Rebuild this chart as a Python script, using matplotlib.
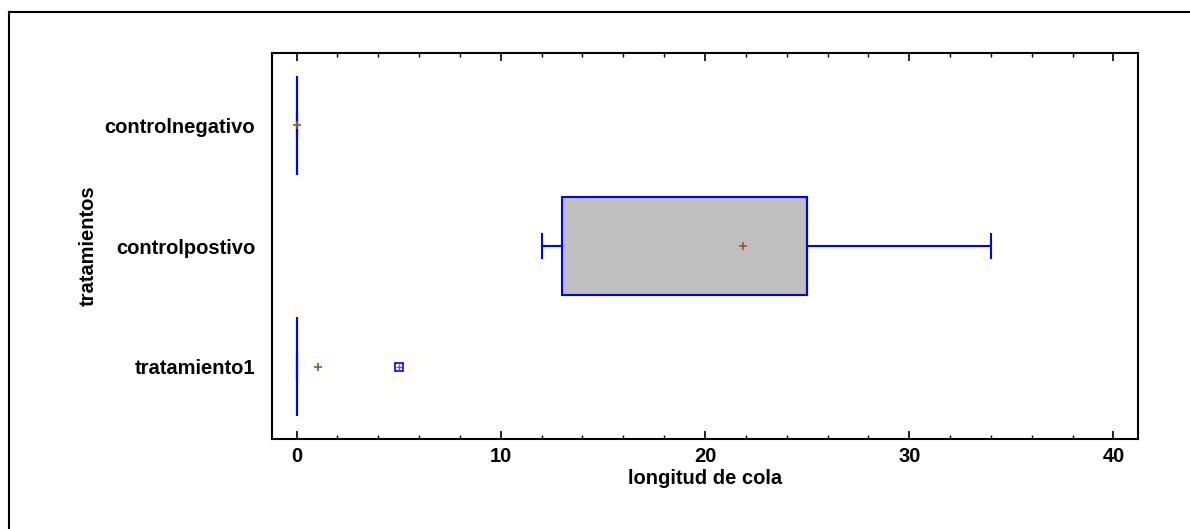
import matplotlib.pyplot as plt
from matplotlib.lines import Line2D
from matplotlib.ticker import MultipleLocator

plt.rcParams['font.family'] = ['Liberation Sans', 'DejaVu Sans']

# data
groups = ['tratamiento1', 'controlpostivo', 'controlnegativo']
whislo = [0, 12, 0]
q1 = [0, 13, 0]
med = [0, 25, 0]
q3 = [0, 25, 0]
whishi = [0, 34, 0]
means = [1.06, 21.86, 0]
outliers = [[5.0], [], []]

stats = []
for i, g in enumerate(groups):
    stats.append({'label': g, 'whislo': whislo[i], 'q1': q1[i], 'med': med[i],
                  'q3': q3[i], 'whishi': whishi[i], 'mean': means[i],
                  'fliers': outliers[i]})

fig = plt.figure(figsize=(11.9, 5.29), dpi=100)
ax = fig.add_axes([272 / 1190, 1 - 439 / 529, (1138 - 272) / 1190, (439 - 53) / 529])

blue = '#0000ff'
brown = '#a0522d'
ax.bxp(stats, positions=range(len(groups)), vert=False, widths=0.82,
       patch_artist=True, showmeans=True, showfliers=True,
       boxprops=dict(facecolor='#c0c0c0', edgecolor=blue, linewidth=1.5),
       whiskerprops=dict(color=blue, linewidth=1.5),
       capprops=dict(color=blue, linewidth=1.5),
       medianprops=dict(color=blue, linewidth=1.5),
       meanprops=dict(marker='+', markeredgecolor=brown, markersize=6, markeredgewidth=1.2),
       flierprops=dict(marker='s', markerfacecolor='none', markeredgecolor=blue,
                       markersize=6, markeredgewidth=1.2),
       capwidths=0.2)
# plus inside the outlier square
for i, o in enumerate(outliers):
    ax.plot(o, [i] * len(o), linestyle='none', marker='+', color=brown,
            markersize=5, markeredgewidth=1)

ax.set_xlim(-1.2, 41.2)
ax.set_ylim(-0.6, 2.6)
ax.set_yticks(range(len(groups)))
ax.set_yticklabels(groups, fontsize=14.5, fontweight='bold')
ax.tick_params(axis='y', length=0, pad=12)
ax.xaxis.set_major_locator(MultipleLocator(10))
ax.xaxis.set_minor_locator(MultipleLocator(2))
ax.tick_params(axis='x', which='major', direction='in', length=6, width=1.2,
               top=True, labelsize=14.5, pad=6)
ax.tick_params(axis='x', which='minor', direction='in', length=3, width=1, top=True)
for lbl in ax.get_xticklabels():
    lbl.set_fontweight('bold')
for s in ax.spines.values():
    s.set_linewidth(1.5)

ax.set_xlabel('longitud de cola', fontsize=14.5, fontweight='bold', labelpad=2)
ax.set_ylabel('tratamientos', fontsize=14.5, fontweight='bold', labelpad=5)

# outer frame (open on right and bottom)
fig.add_artist(Line2D([9 / 1190, 9 / 1190], [0, 1 - 12 / 529], color='black', lw=1.5,
                      transform=fig.transFigure))
fig.add_artist(Line2D([9 / 1190, 1], [1 - 12 / 529, 1 - 12 / 529], color='black', lw=1.5,
                      transform=fig.transFigure))

fig.savefig('out.png', dpi=100)
